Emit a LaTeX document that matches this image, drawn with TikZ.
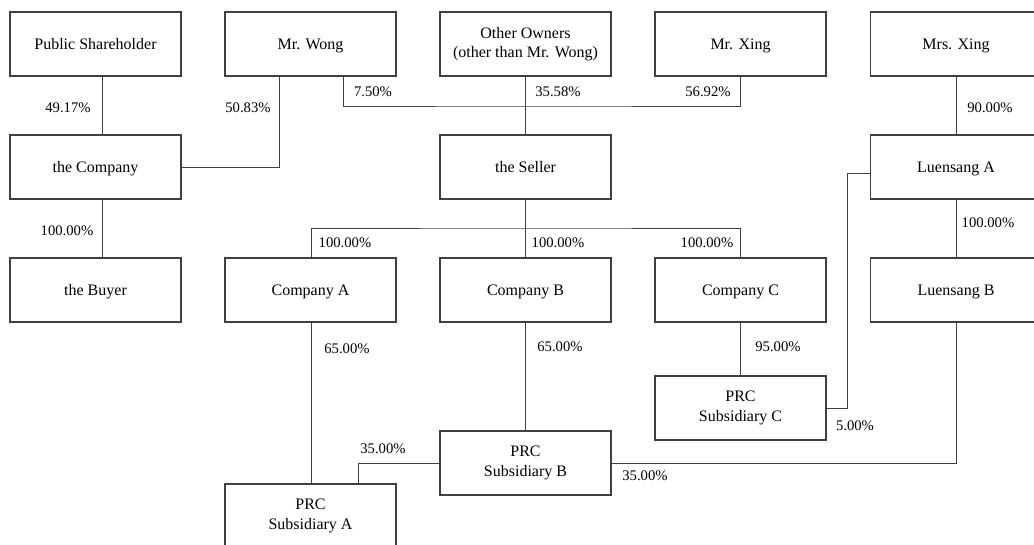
\documentclass[tikz,border=0pt]{standalone}
\usepackage{xcolor}
\usepackage{tikz}
\usepackage{fontspec}
\setmainfont{Liberation Serif}

\begin{document}
\begin{tikzpicture}[x=0.75pt,
					y=-0.75pt,
					box/.style={draw=black!75, line width=0.8pt, minimum width=128.25pt, minimum height=48pt, inner sep=0pt, align=center, font=\fontsize{12}{14.5}\selectfont},
					onebox/.style={box, text height=8.5pt, text depth=0.5pt},
					pct/.style={inner sep=0pt, font=\fontsize{11}{13}\selectfont},
					link/.style={draw=black!75, line width=0.7pt}]
					
					\useasboundingbox (0,0) rectangle (1034,545);
					\clip (0,0) rectangle (1034,545);
					
					% owners
					\node[onebox] (pub) at (95.5,44) {Public Shareholder};
					\node[onebox] (wong) at (310.5,44) {Mr. Wong};
					\node[box] (other) at (525.5,44) {Other Owners\\(other than Mr. Wong)};
					\node[onebox] (xing) at (740.5,44) {Mr. Xing};
					\node[onebox] (mrsxing) at (956,44) {Mrs. Xing};
					
					\node[onebox] (company) at (95.5,167) {the Company};
					\node[onebox] (seller) at (525.5,167) {the Seller};
					\node[onebox] (luensangA) at (956,167) {Luensang A};
					
					\node[onebox] (buyer) at (95.5,290) {the Buyer};
					\node[onebox] (compA) at (310.5,290) {Company A};
					\node[onebox] (compB) at (525.5,290) {Company B};
					\node[onebox] (compC) at (740.5,290) {Company C};
					\node[onebox] (luensangB) at (956,290) {Luensang B};
					
					% subsidiaries
					\node[box] (prcC) at (740.5,408) {PRC\\Subsidiary C};
					\node[box] (prcB) at (525.5,463) {PRC\\Subsidiary B};
					\node[box] (prcA) at (310.5,516) {PRC\\Subsidiary A};
					
					\coordinate (ownbus) at (525.5,106);
					\coordinate (sellbus) at (525.5,228);
					
					\draw[link] ([xshift=4.9pt]pub.south) -- ([xshift=4.9pt]company.north);
					\draw[link] (company.east) -| ([xshift=-23.6pt]wong.south);
					\draw[link] ([xshift=24.4pt]wong.south) |- (ownbus) -| (xing.south);
					\draw[link] (other.south) -- (seller.north);
					\draw[link] (mrsxing.south) -- (luensangA.north);
					\draw[link] ([xshift=4.9pt]company.south) -- ([xshift=4.9pt]buyer.north);
					\draw[link] (seller.south) -- (compB.north);
					\draw[link] ([xshift=1pt]compA.north) |- (sellbus) -| (compC.north);
					\draw[link] (luensangA.south) -- (luensangB.north);
					\draw[link] ([xshift=1pt]compA.south) -- ([xshift=1pt]prcA.north);
					\draw[link] (compB.south) -- (prcB.north);
					\draw[link] (compC.south) -- (prcC.north);
					\draw[link] (prcB.west) -| ([xshift=35.6pt]prcA.north);
					\draw[link] (prcB.east) -| (luensangB.south);
					\draw[link] (prcC.east) -| ([xshift=-17.25pt,yshift=-4.5pt]luensangA.west) -- ([yshift=-4.5pt]luensangA.west);
					
					% percentages
					\node[pct] (p1) at (68,108) {49.17\%};
					\node[pct] (p2) at (248,108) {50.83\%};
					\node[pct] (p3) at (373,92) {7.50\%};
					\node[pct] (p4) at (558,92) {35.58\%};
					\node[pct] (p5) at (708,92) {56.92\%};
					\node[pct] (p6) at (990,108) {90.00\%};
					\node[pct] (p7) at (67,231) {100.00\%};
					\node[pct] (p8) at (345,243) {100.00\%};
					\node[pct] (p9) at (558,243) {100.00\%};
					\node[pct] (p10) at (707,243) {100.00\%};
					\node[pct] (p11) at (988,223) {100.00\%};
					\node[pct] (p12) at (347,349) {65.00\%};
					\node[pct] (p13) at (560,347) {65.00\%};
					\node[pct] (p14) at (778,347) {95.00\%};
					\node[pct] (p15) at (855,426) {5.00\%};
					\node[pct] (p16) at (383,449) {35.00\%};
					\node[pct] (p17) at (645,476) {35.00\%};
				\end{tikzpicture}
\end{document}
